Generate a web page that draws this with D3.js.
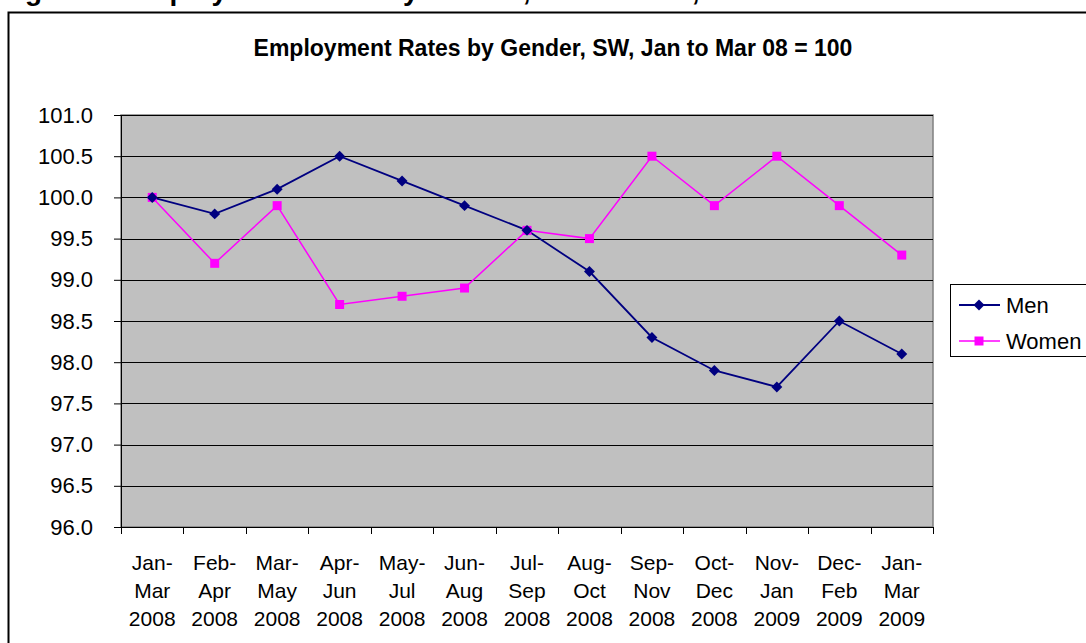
<!DOCTYPE html>
<html>
<head>
<meta charset="utf-8">
<script src="https://cdn.jsdelivr.net/npm/d3@7"></script>
<style>
  body { margin: 0; background: #fff; }
  svg { display: block; font-family: "Liberation Sans", Arial, sans-serif; }
</style>
</head>
<body>
<svg id="svg" width="1086" height="643"></svg>
<script>
const periods = ["Jan-", "Feb-", "Mar-", "Apr-", "May-", "Jun-", "Jul-", "Aug-", "Sep-", "Oct-", "Nov-", "Dec-", "Jan-"];
const periodEnds = ["Mar", "Apr", "May", "Jun", "Jul", "Aug", "Sep", "Oct", "Nov", "Dec", "Jan", "Feb", "Mar"];
const years = ["2008", "2008", "2008", "2008", "2008", "2008", "2008", "2008", "2008", "2008", "2009", "2009", "2009"];
const men = [100.0, 99.8, 100.1, 100.5, 100.2, 99.9, 99.6, 99.1, 98.3, 97.9, 97.7, 98.5, 98.1];
const women = [100.0, 99.2, 99.9, 98.7, 98.8, 98.9, 99.6, 99.5, 100.5, 99.9, 100.5, 99.9, 99.3];
const yTicks = [96.0, 96.5, 97.0, 97.5, 98.0, 98.5, 99.0, 99.5, 100.0, 100.5, 101.0];

const svg = d3.select("#svg");

const plot = {left: 121, top: 115, right: 933, bottom: 527};

// figure caption, mostly cut off by the top of the page
svg.append("text")
  .attr("x", 0).attr("y", 0)
  .attr("font-size", 28).attr("font-weight", "bold")
  .text("Figure 5: Employment Rates by Gender, South West, 2008-09");

// outer chart frame (runs off the page to the right and bottom)
svg.append("rect")
  .attr("x", 8.5).attr("y", 12.5)
  .attr("width", 1200).attr("height", 800)
  .attr("fill", "#fff").attr("stroke", "#000").attr("stroke-width", 2);

svg.append("text")
  .attr("x", 553).attr("y", 56)
  .attr("text-anchor", "middle")
  .attr("font-size", 23).attr("font-weight", "bold")
  .text("Employment Rates by Gender, SW, Jan to Mar 08 = 100");

const keys = d3.range(periods.length);

const xScale = d3.scaleBand()
  .domain(keys)
  .range([plot.left, plot.right]);

const yScale = d3.scaleLinear()
  .domain([96, 101])
  .range([plot.bottom, plot.top]);

const g = svg.append("g");

g.append("rect")
  .attr("x", plot.left).attr("y", plot.top)
  .attr("width", plot.right - plot.left).attr("height", plot.bottom - plot.top)
  .attr("fill", "#c0c0c0").attr("stroke", "#808080").attr("stroke-width", 1.5);

// gridlines
g.selectAll(".grid").data(yTicks.filter(d => d > 96))
  .enter().append("line")
  .attr("x1", plot.left).attr("x2", plot.right)
  .attr("y1", d => Math.round(yScale(d)) + 0.5)
  .attr("y2", d => Math.round(yScale(d)) + 0.5)
  .attr("stroke", "#000");

// y axis
const yAxis = d3.axisLeft(yScale)
  .tickValues(yTicks)
  .tickFormat(d3.format(".1f"))
  .tickSize(7)
  .tickPadding(21);

const yAxisG = g.append("g")
  .attr("transform", `translate(${plot.left},0)`)
  .call(yAxis);
yAxisG.select(".domain").attr("stroke", "#000");
yAxisG.selectAll(".tick line").attr("stroke", "#000");
yAxisG.selectAll("text")
  .attr("font-size", 22).attr("fill", "#000")
  .attr("font-family", "Liberation Sans, Arial, sans-serif");

// x axis with tick marks on band boundaries
const xAxisG = g.append("g")
  .attr("transform", `translate(0,${plot.bottom})`);
xAxisG.append("line")
  .attr("x1", plot.left).attr("x2", plot.right)
  .attr("y1", 0.5).attr("y2", 0.5)
  .attr("stroke", "#000");
xAxisG.selectAll(".xt").data(keys.concat([keys.length]))
  .enter().append("line")
  .attr("x1", d => Math.round(plot.left + d * xScale.step()) + 0.5)
  .attr("x2", d => Math.round(plot.left + d * xScale.step()) + 0.5)
  .attr("y1", 0).attr("y2", 7)
  .attr("stroke", "#000");

const labels = xAxisG.selectAll(".xl").data(keys)
  .enter().append("text")
  .attr("text-anchor", "middle")
  .attr("font-size", 21)
  .attr("fill", "#000");
labels.append("tspan")
  .attr("x", d => xScale(d) + xScale.bandwidth() / 2)
  .attr("y", 43)
  .text(d => periods[d]);
labels.append("tspan")
  .attr("x", d => xScale(d) + xScale.bandwidth() / 2)
  .attr("y", 71)
  .text(d => periodEnds[d]);
labels.append("tspan")
  .attr("x", d => xScale(d) + xScale.bandwidth() / 2)
  .attr("y", 99)
  .text(d => years[d]);

const cx = i => xScale(i) + xScale.bandwidth() / 2;

const line = d3.line()
  .x((d, i) => cx(i))
  .y(d => yScale(d));

// square-on-point diamond like Excel's marker
const diamond = {
  draw(ctx, size) {
    const r = Math.sqrt(size / 2);
    ctx.moveTo(0, -r);
    ctx.lineTo(r, 0);
    ctx.lineTo(0, r);
    ctx.lineTo(-r, 0);
    ctx.closePath();
  }
};

const series = [
  {name: "Men", values: men, color: "#000080", symbol: diamond, size: 60, width: 1.8},
  {name: "Women", values: women, color: "#ff00ff", symbol: d3.symbolSquare, size: 81, width: 1.5}
];

series.slice().reverse().forEach(s => {
  g.append("path")
    .datum(s.values)
    .attr("d", line)
    .attr("fill", "none")
    .attr("stroke", s.color)
    .attr("stroke-width", s.width);
});

series.slice().reverse().forEach(s => {
  g.selectAll(null).data(s.values)
    .enter().append("path")
    .attr("d", d3.symbol().type(s.symbol).size(s.size))
    .attr("transform", (d, i) => `translate(${cx(i)},${yScale(d)})`)
    .attr("fill", s.color);
});

// legend
const legend = svg.append("g").attr("transform", "translate(950,284)");
legend.append("rect")
  .attr("x", 0.5).attr("y", 0.5)
  .attr("width", 200).attr("height", 72)
  .attr("fill", "#fff").attr("stroke", "#000");

const items = legend.selectAll(".item").data(series)
  .enter().append("g")
  .attr("transform", (d, i) => `translate(0,${21 + i * 36})`);
items.append("line")
  .attr("x1", 9).attr("x2", 50)
  .attr("stroke", d => d.color).attr("stroke-width", d => d.width);
items.append("path")
  .attr("d", d => d3.symbol().type(d.symbol).size(d.size)())
  .attr("transform", "translate(29,0)")
  .attr("fill", d => d.color);
items.append("text")
  .attr("x", 56).attr("y", 8)
  .attr("font-size", 22)
  .text(d => d.name);
</script>
</body>
</html>
